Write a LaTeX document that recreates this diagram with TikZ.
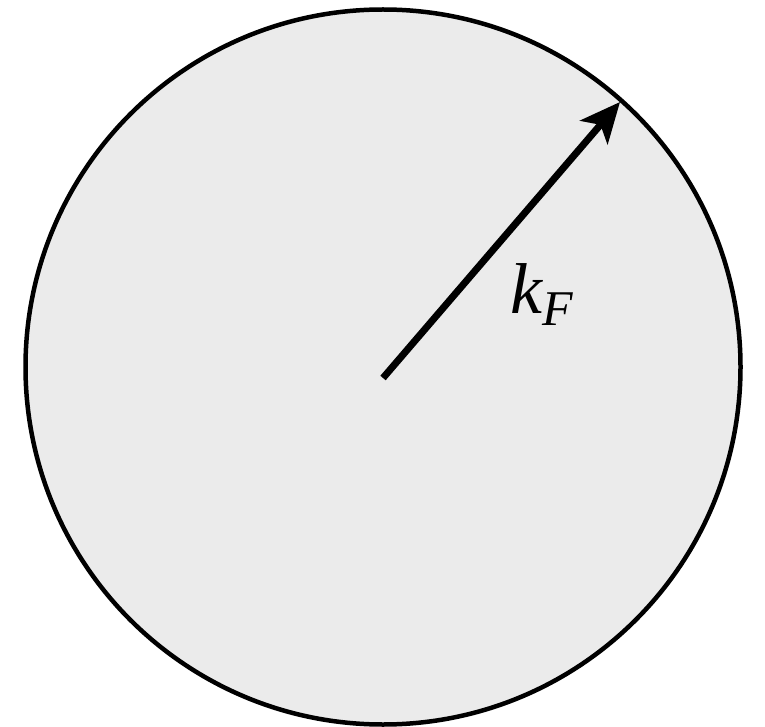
\documentclass[tikz,border=0pt]{standalone}
\usepackage{fontspec}
\setmainfont{Liberation Serif}
\usetikzlibrary{arrows.meta}
\begin{document}
\begin{tikzpicture}[x=1pt,y=-1pt,
  sphere/.style={draw=black,fill=black!8,line width=4.5pt},
  radius arrow/.style={line width=7pt,-{Stealth[length=40pt,width=36pt,inset=10pt]}}]
\useasboundingbox (0,0) rectangle (765,727);
\node[sphere,circle,minimum size=715pt,inner sep=0pt] (fs) at (383,367) {};
\coordinate (c) at (383,378);
\coordinate (tip) at (620,102);
\draw[radius arrow] (c) -- (tip);
\node[anchor=base west,inner sep=0pt] (kf) at (510,313)
  {\fontsize{72}{72}\selectfont\itshape k\raisebox{-12pt}{\fontsize{50}{50}\selectfont F}};
\end{tikzpicture}
\end{document}
